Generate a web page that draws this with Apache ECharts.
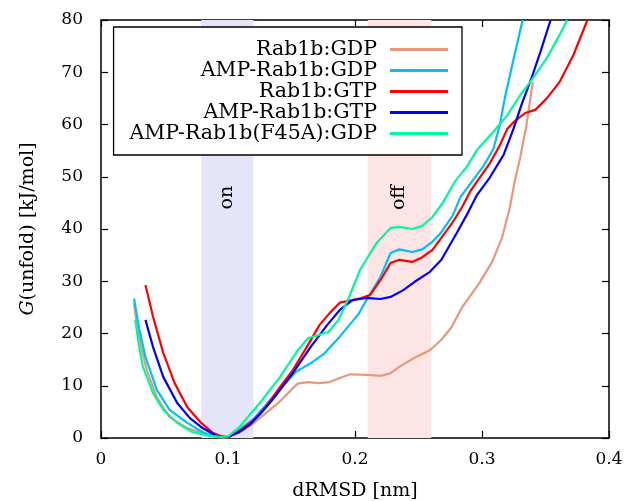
<!DOCTYPE html>
<html>
<head>
<meta charset="utf-8">
<script src="https://cdn.jsdelivr.net/npm/echarts@6/dist/echarts.min.js"></script>
<style>html,body{margin:0;padding:0;background:#fff}#c{width:630px;height:501px}</style>
</head>
<body>
<div id="c"></div>
<script>
const seriesNames = ['Rab1b:GDP', 'AMP-Rab1b:GDP', 'Rab1b:GTP', 'AMP-Rab1b:GTP', 'AMP-Rab1b(F45A):GDP'];
const xTicks = [0, 0.1, 0.2, 0.3, 0.4];
const yTicks = [0, 10, 20, 30, 40, 50, 60, 70, 80];
const onBand = [0.079, 0.12];
const offBand = [0.21, 0.26];
const bandLabels = ['on', 'off'];

const rab1bGDP = [[0.026,25.8],[0.028,22],[0.032,17],[0.036,13],[0.044,7.8],[0.054,4.0],[0.068,1.9],[0.083,0.6],[0.094,0.1],[0.1,0.1],[0.11,1.2],[0.12,2.8],[0.13,4.8],[0.14,6.8],[0.15,9.3],[0.155,10.4],[0.163,10.7],[0.172,10.5],[0.18,10.7],[0.188,11.5],[0.196,12.2],[0.209,12.1],[0.22,11.9],[0.228,12.4],[0.236,13.8],[0.245,15.1],[0.259,16.8],[0.268,18.8],[0.276,21.2],[0.284,24.9],[0.298,29.7],[0.308,33.7],[0.316,38.5],[0.322,44.2],[0.326,49.4],[0.330,53.6],[0.335,59.9],[0.340,68.1]];
const ampRab1bGDP = [[0.026,26.7],[0.03,21],[0.035,15.5],[0.044,9.2],[0.054,5.4],[0.068,2.9],[0.080,1.1],[0.091,0.2],[0.1,0.1],[0.11,1.8],[0.12,3.6],[0.135,7.8],[0.145,10.5],[0.153,12.6],[0.165,14.3],[0.176,16.2],[0.188,19.4],[0.203,23.8],[0.209,26.4],[0.220,30.8],[0.228,35.4],[0.235,36.1],[0.245,35.6],[0.253,36.1],[0.261,37.6],[0.268,39.4],[0.277,42.6],[0.283,46.1],[0.293,49.4],[0.301,52],[0.309,55.3],[0.314,59.9],[0.318,65.1],[0.325,72.7],[0.332,80]];
const rab1bGTP = [[0.035,29.3],[0.041,23.2],[0.049,16.3],[0.058,10.5],[0.068,5.9],[0.078,3.1],[0.088,1.0],[0.096,0.2],[0.1,0.1],[0.11,1.5],[0.12,3.4],[0.13,6],[0.141,9.8],[0.151,13],[0.162,17.4],[0.172,21.6],[0.180,23.9],[0.188,25.9],[0.198,26.4],[0.205,26.8],[0.212,27.4],[0.220,30.2],[0.228,33.5],[0.235,34.1],[0.245,33.7],[0.253,34.6],[0.261,36],[0.268,38.3],[0.277,41.3],[0.285,44.5],[0.291,47.3],[0.297,49.4],[0.306,52.5],[0.314,56],[0.320,59.2],[0.325,60.5],[0.334,62.2],[0.342,62.8],[0.351,65],[0.361,68.1],[0.372,73.3],[0.383,80]];
const ampRab1bGTP = [[0.035,22.6],[0.041,17.4],[0.049,11.7],[0.060,6.7],[0.070,3.8],[0.080,1.9],[0.091,0.4],[0.099,0.2],[0.108,1],[0.117,2.5],[0.125,4.5],[0.135,7.3],[0.151,12.4],[0.165,17.4],[0.178,21.6],[0.188,24.5],[0.198,26.4],[0.209,26.8],[0.220,26.6],[0.228,27],[0.238,28.3],[0.247,29.9],[0.259,31.8],[0.268,34.1],[0.280,39.2],[0.288,42.7],[0.296,46.5],[0.306,49.8],[0.317,54.2],[0.325,59.3],[0.331,63.7],[0.339,68.9],[0.346,73.9],[0.354,80]];
const ampF45AGDP = [[0.027,22.6],[0.030,17.5],[0.033,13.6],[0.041,8.6],[0.049,5.4],[0.060,2.9],[0.072,1.1],[0.086,0.4],[0.094,0.2],[0.1,0.3],[0.109,2.1],[0.125,6.7],[0.141,11.7],[0.155,16.8],[0.163,19.1],[0.179,20.3],[0.187,22.6],[0.195,26.8],[0.204,32.2],[0.212,35.4],[0.217,37.3],[0.228,40.2],[0.235,40.4],[0.245,40],[0.253,40.6],[0.261,42.3],[0.269,45],[0.279,49.2],[0.288,51.9],[0.296,55.1],[0.309,58.6],[0.320,61.8],[0.330,65.6],[0.339,68.5],[0.351,72.7],[0.361,77.1],[0.367,80]];

const colors = ['#e9967a', '#00bfff', '#ff0000', '#0000ff', '#00fa9a'];
const datasets = [rab1bGDP, ampRab1bGDP, rab1bGTP, ampRab1bGTP, ampF45AGDP];
const FONT = 'DejaVu Serif';

const chart = echarts.init(document.getElementById('c'), null, {renderer: 'canvas'});

const axisCommon = {
  axisLine: {show: true, onZero: false, lineStyle: {color: '#000', width: 1.5}},
  axisTick: {show: true, inside: true, length: 7, lineStyle: {color: '#000', width: 1.2}},
  splitLine: {show: false}
};

const series = datasets.map((d, i) => ({
  name: seriesNames[i],
  type: 'line',
  data: d,
  symbol: 'none',
  showSymbol: false,
  smooth: false,
  lineStyle: {color: colors[i], width: 2.2},
  itemStyle: {color: colors[i]},
  z: 3 + i,
  animation: false
}));
series.unshift({
  type: 'line', data: [], silent: true, animation: false,
  markArea: {
    silent: true,
    itemStyle: {opacity: 1},
    data: [
      [{xAxis: onBand[0], yAxis: 0, itemStyle: {color: '#e5e5fa'}}, {xAxis: onBand[1], yAxis: 80}],
      [{xAxis: offBand[0], yAxis: 0, itemStyle: {color: '#fde5e5'}}, {xAxis: offBand[1], yAxis: 80}]
    ]
  },
  z: 1
});

chart.setOption({
  animation: false,
  backgroundColor: '#fff',
  textStyle: {fontFamily: FONT},
  grid: {left: 101, right: 21, top: 20, bottom: 63, containLabel: false, outerBoundsMode: 'none'},
  xAxis: [
    Object.assign({}, axisCommon, {
      type: 'value', min: 0, max: 0.4, interval: 0.1, position: 'bottom',
      name: 'dRMSD [nm]', nameLocation: 'middle', nameGap: 44,
      nameTextStyle: {fontFamily: FONT, fontSize: 19, color: '#000'},
      axisLabel: {margin: 13, fontFamily: FONT, fontSize: 17, color: '#000',
        formatter: v => { const t = xTicks.find(x => Math.abs(x - v) < 1e-9); return t === undefined ? '' : String(t); }}
    }),
    Object.assign({}, axisCommon, {
      type: 'value', min: 0, max: 0.4, interval: 0.1, position: 'top', axisLabel: {show: false}
    })
  ],
  yAxis: [
    Object.assign({}, axisCommon, {
      type: 'value', min: 0, max: 80, interval: 10, position: 'left',
      name: '{i|G}(unfold) [kJ/mol]', nameLocation: 'middle', nameGap: 63,
      nameTextStyle: {fontFamily: FONT, fontSize: 19, color: '#000',
        rich: {i: {fontFamily: FONT, fontStyle: 'italic', fontSize: 19, color: '#000'}}},
      axisLabel: {margin: 18, fontFamily: FONT, fontSize: 17, color: '#000',
        formatter: v => { const t = yTicks.find(y => Math.abs(y - v) < 1e-9); return t === undefined ? '' : String(t); }}
    }),
    Object.assign({}, axisCommon, {
      type: 'value', min: 0, max: 80, interval: 10, position: 'right', axisLabel: {show: false}
    })
  ],
  legend: {
    data: seriesNames,
    orient: 'vertical',
    align: 'right',
    right: 168, top: 27,
    padding: [12, 14, 11, 16],
    itemGap: 0,
    icon: 'rect',
    itemWidth: 58, itemHeight: 3,
    borderColor: '#000', borderWidth: 1.3, borderRadius: 0,
    backgroundColor: '#fff',
    textStyle: {fontFamily: FONT, fontSize: 20.5, lineHeight: 21, color: '#000', padding: [0, 8, 0, 0]},
    z: 20
  },
  series: series
});

const labelGraphics = [onBand, offBand].map((b, i) => {
  const p = chart.convertToPixel({gridIndex: 0}, [(b[0] + b[1]) / 2, 46]);
  return {
    type: 'text', x: p[0], y: p[1], rotation: Math.PI / 2, z: 10,
    style: {text: bandLabels[i], font: '19px "DejaVu Serif"', fill: '#000', align: 'center', verticalAlign: 'middle'}
  };
});
chart.setOption({graphic: labelGraphics});
</script>
</body>
</html>
